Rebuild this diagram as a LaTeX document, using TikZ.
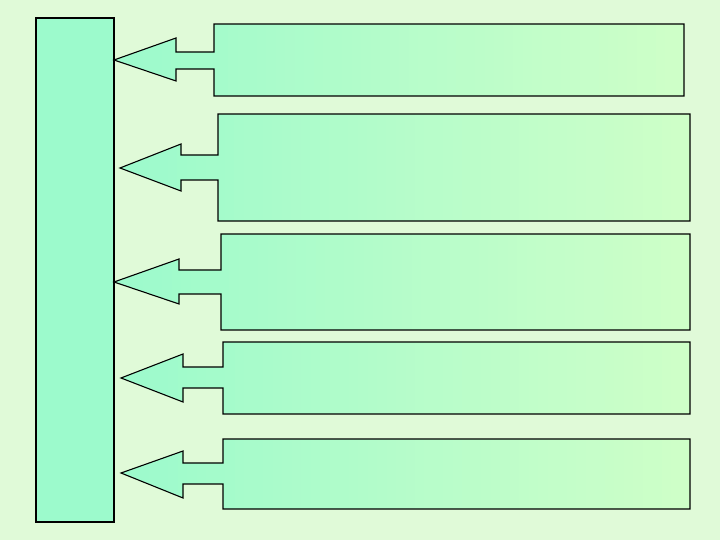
\documentclass[tikz,border=0pt]{standalone}
\usetikzlibrary{positioning}
\definecolor{pagegreen}{RGB}{224,250,216}
\definecolor{aquagreen}{RGB}{156,250,204}
\definecolor{lightmint}{RGB}{206,255,200}
\begin{document}
\begin{tikzpicture}[x=1pt,y=1pt,
  bar/.style={draw=black, line width=1.1pt, fill=aquagreen},
  callout/.style={draw=black, line width=1.1pt}]
  % Page background (y counts up from the bottom edge)
  \fill[pagegreen] (0,0) rectangle (720,540);
  \useasboundingbox (0,0) rectangle (720,540);

  % The tall bar on the left
  \draw[bar] (36,18) rectangle (114,522);

  % Arrow callouts pointing at the bar, shaded left to right in strips
  \foreach \tx/\ty/\hx/\ht/\hb/\st/\sb/\bx/\bt/\bb/\br in {
      114/480/176/502/459/488/471/214/516/444/684,
      120/372/181/396/349/385/360/218/426/319/690,
      114/258/179/281/236/270/246/221/306/210/690,
      121/162/183/186/138/173/152/223/198/126/690,
      121/67/183/89/42/77/56/223/101/31/690} {
    \def\outline{(\tx,\ty) -- (\hx,\ht) -- (\hx,\st) -- (\bx,\st) -- (\bx,\bt)
      -- (\br,\bt) -- (\br,\bb) -- (\bx,\bb) -- (\bx,\sb) -- (\hx,\sb)
      -- (\hx,\hb) -- cycle}
    \begin{scope}
      \clip \outline;
      \foreach \i in {0,...,59} {
        \pgfmathsetmacro{\xa}{\tx+(\br-\tx)/60*\i}
        \pgfmathsetmacro{\xb}{\tx+(\br-\tx)/60*(\i+1)+0.6}
        \pgfmathtruncatemacro{\pct}{100-100/59*\i}
        \fill[aquagreen!\pct!lightmint] (\xa,\bb) rectangle (\xb,\bt);
      }
    \end{scope}
    \draw[callout] \outline;
  }
\end{tikzpicture}
\end{document}
